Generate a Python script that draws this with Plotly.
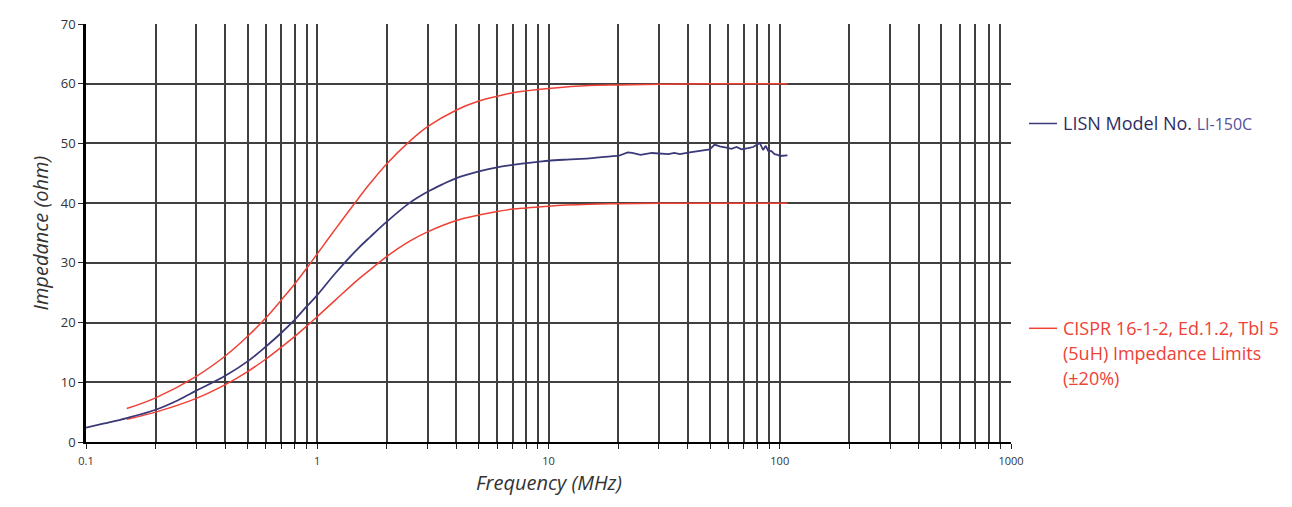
import plotly.graph_objs as go

# LISN LI-150C measured impedance (MHz, ohm)
lisn_freq = [0.1, 0.12, 0.15, 0.2, 0.25, 0.3, 0.4, 0.5, 0.6, 0.7, 0.8, 0.9, 1, 1.2, 1.5, 1.7, 2,
             2.5, 3, 3.5, 4, 5, 6, 7, 8, 9, 10, 12, 15, 17, 20, 22, 23, 25, 28, 30, 33, 35, 37,
             40.8, 45, 49.8, 52.3, 55, 58.8, 61.8, 65, 68.3, 72.9, 76.7, 80.6, 82, 84.7, 87, 89,
             92, 95, 98, 100, 104, 108]
lisn_ohm = [2.4, 3.1, 4.0, 5.4, 7.0, 8.6, 11.1, 13.5, 16.0, 18.3, 20.5, 22.7, 24.6, 28.3, 32.4,
            34.4, 36.9, 40.0, 41.9, 43.2, 44.2, 45.3, 46.0, 46.4, 46.7, 46.9, 47.1, 47.3, 47.5,
            47.7, 47.9, 48.5, 48.4, 48.1, 48.4, 48.3, 48.2, 48.4, 48.2, 48.5, 48.8, 49.0, 49.8,
            49.5, 49.3, 49.1, 49.4, 49.0, 49.2, 49.4, 49.9, 50.1, 48.9, 49.6, 48.8, 48.7, 48.2,
            48.1, 47.9, 48.0, 48.0]

# CISPR 16-1-2 Tbl 5 limits (+/-20%)
cispr_freq = [0.15, 0.2, 0.3, 0.4, 0.5, 0.6, 0.7, 0.8, 0.9, 1, 1.2, 1.5, 1.7, 2, 2.5, 3, 4, 5,
              6, 7, 8, 10, 15, 20, 30, 50, 108]
cispr_upper = [5.6, 7.4, 11.0, 14.4, 17.7, 20.8, 23.8, 26.5, 29.1, 31.5, 35.7, 40.7, 43.4, 46.6,
               50.3, 52.8, 55.6, 57.1, 57.9, 58.5, 58.8, 59.2, 59.7, 59.8, 59.9, 60.0, 60.0]
cispr_lower = [3.8, 5.0, 7.3, 9.6, 11.8, 13.9, 15.9, 17.7, 19.4, 21.0, 23.8, 27.2, 28.9, 31.1,
               33.6, 35.2, 37.1, 38.0, 38.6, 39.0, 39.2, 39.5, 39.8, 39.9, 40.0, 40.0, 40.0]

x_major = [0.1, 1, 10, 100, 1000]
y_ticks = [0, 10, 20, 30, 40, 50, 60, 70]

PURPLE = "#3b3a79"
RED = "#ef4136"
GRID = "#404040"

tickvals, ticktext = [], []
for dec in [0.1, 1, 10, 100]:
    for m in range(1, 10):
        v = round(dec * m, 3)
        tickvals.append(v)
        ticktext.append(str(v) if v in x_major else "")
tickvals.append(1000)
ticktext.append("1000")

# smooth low-frequency part drawn as spline, noisy top end as plain line
split = lisn_freq.index(20)

fig = go.Figure()
fig.add_trace(go.Scatter(x=cispr_freq, y=cispr_upper, mode="lines", line_shape="spline",
                         line=dict(color=RED, width=1.5), showlegend=False))
fig.add_trace(go.Scatter(x=cispr_freq, y=cispr_lower, mode="lines", line_shape="spline",
                         line=dict(color=RED, width=1.5), showlegend=False))
fig.add_trace(go.Scatter(x=lisn_freq[:split + 1], y=lisn_ohm[:split + 1], mode="lines",
                         line_shape="spline", line=dict(color=PURPLE, width=1.8), showlegend=False))
fig.add_trace(go.Scatter(x=lisn_freq[split:], y=lisn_ohm[split:], mode="lines",
                         line=dict(color=PURPLE, width=1.8), showlegend=False))

# legend drawn by hand to match the original placement
fig.add_shape(type="line", xref="paper", yref="paper", x0=1.0195, x1=1.0497, y0=0.762, y1=0.762,
              line=dict(color=PURPLE, width=1.5))
fig.add_shape(type="line", xref="paper", yref="paper", x0=1.0195, x1=1.0497, y0=0.272, y1=0.272,
              line=dict(color=RED, width=1.5))
fig.add_annotation(xref="paper", yref="paper", x=1.054, y=0.762, xanchor="left", yanchor="middle",
                   showarrow=False, align="left",
                   text="LISN Model No. <span style='color:#55539a;font-size:16px'>LI-150C</span>",
                   font=dict(family="Open Sans", size=18, color="#2f2c62"))
legend_red = ["CISPR 16-1-2, Ed.1.2, Tbl 5", "(5uH) Impedance Limits", "(±20%)"]
for i, line in enumerate(legend_red):
    fig.add_annotation(xref="paper", yref="paper", x=1.054, y=0.272, yshift=-25 * i,
                       xanchor="left", yanchor="middle", showarrow=False, text=line,
                       font=dict(family="Open Sans", size=18, color=RED))

# axis titles
fig.add_annotation(xref="paper", yref="paper", x=0.5, y=-0.098, xanchor="center",
                   yanchor="middle", showarrow=False, text="<i>Frequency (MHz)</i>",
                   font=dict(family="Open Sans", size=20, color="#333333"))
fig.add_annotation(xref="paper", yref="paper", x=-0.0492, y=0.5, xanchor="center",
                   yanchor="middle", showarrow=False, textangle=-90,
                   text="<i>Impedance (ohm)</i>",
                   font=dict(family="Open Sans", size=20, color="#333333"))

fig.update_layout(
    width=1284, height=499,
    margin=dict(l=78, r=281, t=16, b=65),
    paper_bgcolor="white", plot_bgcolor="white",
    font=dict(family="Open Sans", color="#333333"),
    xaxis=dict(
        type="log", range=[-1, 3], automargin=False,
        tickvals=tickvals, ticktext=ticktext,
        ticks="outside", ticklen=5, tickcolor="#222222",
        tickfont=dict(size=11, color="#333333"),
        ticklabelstandoff=3,
        showgrid=True, gridcolor=GRID, gridwidth=1.5,
        showline=True, linecolor="black", linewidth=2,
        zeroline=False,
    ),
    yaxis=dict(
        range=[0, 70], tickvals=y_ticks, automargin=False,
        ticks="outside", ticklen=5, tickcolor="#222222",
        tickfont=dict(size=13, color="#333333"),
        showgrid=True, gridcolor=GRID, gridwidth=1.5,
        showline=True, linecolor="black", linewidth=2.5,
        zeroline=False,
    ),
)

fig.write_html("out.html")
